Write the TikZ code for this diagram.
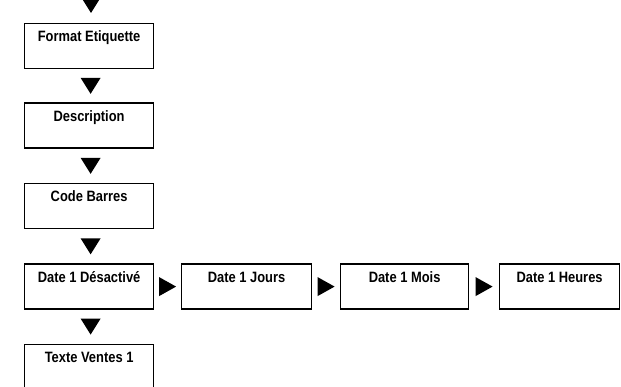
\documentclass[tikz,border=0pt]{standalone}
\usepackage{fontspec}
\setmainfont{Liberation Sans}
\newfontfamily\boxfont[FakeStretch=0.86]{Liberation Sans}
\usetikzlibrary{calc}
\tikzset{
  box/.style={draw=black, line width=1.2pt, rectangle, anchor=north west, minimum width=129pt, minimum height=45pt, inner sep=0pt},
  boxtext/.style={anchor=base, font=\boxfont\fontsize{15}{17}\selectfont\bfseries, inner sep=0pt},
  downtri/.pic={\fill[black] (-10pt,8pt) -- (10pt,8pt) -- (0pt,-8pt) -- cycle;},
  righttri/.pic={\fill[black] (-8.5pt,9.5pt) -- (-8.5pt,-9.5pt) -- (8.5pt,0pt) -- cycle;}
}
\begin{document}
\begin{tikzpicture}[x=1pt,y=-1pt]
\useasboundingbox (0,0) rectangle (621,387);
\clip (0,0) rectangle (621,387);
% boxes
\node[box] (b1) at (24,23) {};
\node[box] (b2) at (24,102.5) {};
\node[box] (b3) at (24,183) {};
\node[box] (b4) at (24,263.5) {};
\node[box, minimum height=70pt] (b5) at (24,343.5) {};
\node[box, minimum width=130pt] (bj) at (181,263.5) {};
\node[box, minimum width=128pt] (bm) at (340,263.5) {};
\node[box, minimum width=120pt] (bh) at (499,263.5) {};
% texts
\node[boxtext] (t1) at ([yshift=-18.7pt]b1.north) {Format Etiquette};
\node[boxtext] (t2) at ([yshift=-18.7pt]b2.north) {Description};
\node[boxtext] (t3) at ([yshift=-18.7pt]b3.north) {Code Barres};
\node[boxtext] (t4) at ([yshift=-18.7pt]b4.north) {Date 1 Désactivé};
\node[boxtext] (t5) at ([yshift=-18.7pt]b5.north) {Texte Ventes 1};
\node[boxtext] (tj) at ([yshift=-18.7pt]bj.north) {Date 1 Jours};
\node[boxtext] (tm) at ([yshift=-18.7pt]bm.north) {Date 1 Mois};
\node[boxtext] (th) at ([yshift=-18.7pt]bh.north) {Date 1 Heures};
% down triangles
\coordinate (top) at (91,5);
\pic at (top) {downtri};
\pic at ($([xshift=1.5pt]b1.south)!0.5!([xshift=1.5pt]b2.north)$) {downtri};
\pic at ($([xshift=1.5pt]b2.south)!0.5!([xshift=1.5pt]b3.north)$) {downtri};
\pic at ($([xshift=1.5pt]b3.south)!0.5!([xshift=1.5pt]b4.north)$) {downtri};
\pic at ($([xshift=1.5pt]b4.south)!0.5!([xshift=1.5pt]b5.north)$) {downtri};
% right triangles
\pic at ($(b4.east)!0.5!(bj.west)$) {righttri};
\pic at ($(bj.east)!0.5!(bm.west)$) {righttri};
\pic at ($(bm.east)!0.5!(bh.west)$) {righttri};
\end{tikzpicture}
\end{document}
